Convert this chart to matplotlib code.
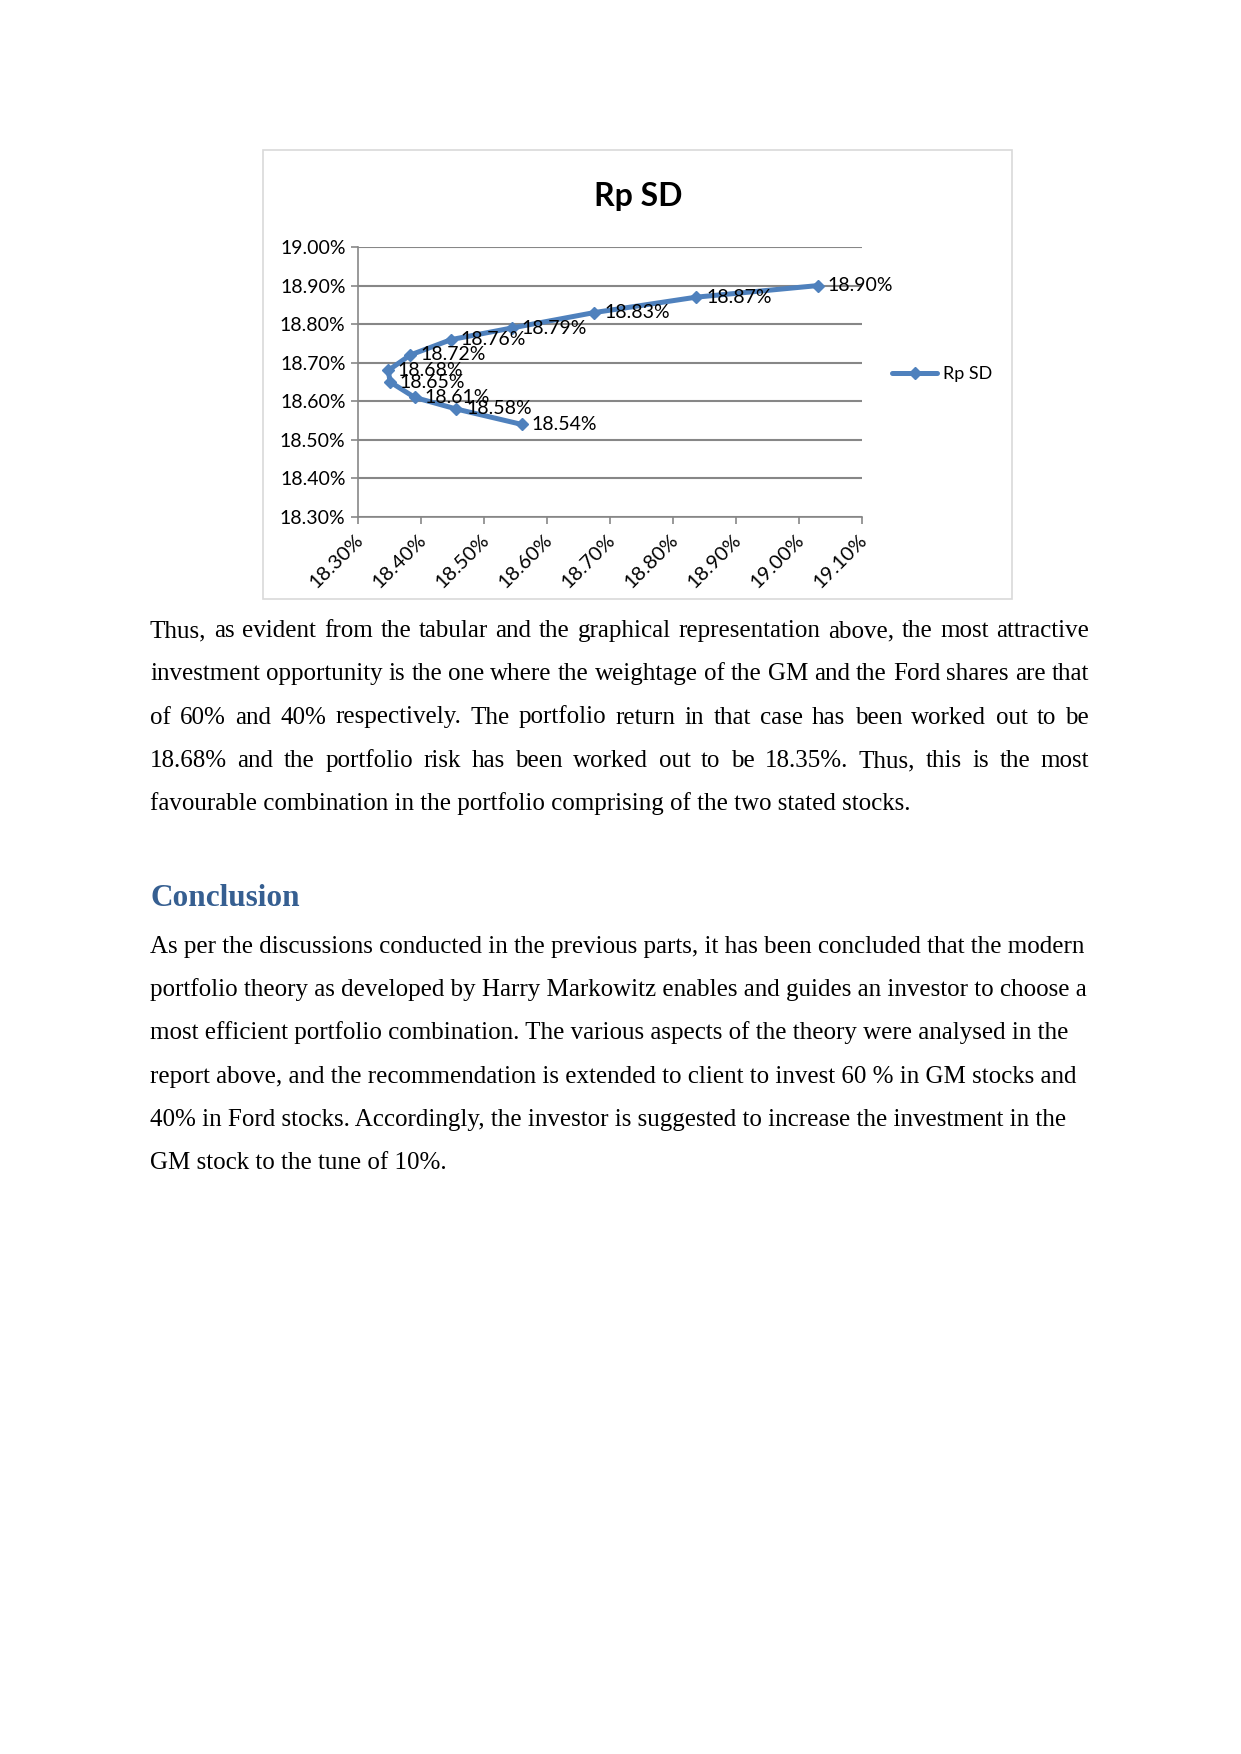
import matplotlib
matplotlib.use("Agg")
import matplotlib.pyplot as plt
from matplotlib.patches import Rectangle
from matplotlib.transforms import ScaledTranslation
import numpy as np

# portfolio risk (x) and return (y), in %
sd = [18.560, 18.456, 18.390, 18.351, 18.348, 18.383, 18.448, 18.544, 18.675, 18.837, 19.030]
rp = [18.54, 18.58, 18.61, 18.65, 18.68, 18.72, 18.76, 18.79, 18.83, 18.87, 18.90]
x_ticks = [18.30, 18.40, 18.50, 18.60, 18.70, 18.80, 18.90, 19.00, 19.10]
y_ticks = [18.30, 18.40, 18.50, 18.60, 18.70, 18.80, 18.90, 19.00]

para1 = [
    "Thus, as evident from the tabular and the graphical representation above, the most attractive",
    "investment opportunity is the one where the weightage of the GM and the Ford shares are that",
    "of 60% and 40% respectively. The portfolio return in that case has been worked out to be",
    "18.68% and the portfolio risk has been worked out to be 18.35%. Thus, this is the most",
    "favourable combination in the portfolio comprising of the two stated stocks.",
]
para2 = [
    "As per the discussions conducted in the previous parts, it has been concluded that the modern",
    "portfolio theory as developed by Harry Markowitz enables and guides an investor to choose a",
    "most efficient portfolio combination. The various aspects of the theory were analysed in the",
    "report above, and the recommendation is extended to client to invest 60 % in GM stocks and",
    "40% in Ford stocks. Accordingly, the investor is suggested to increase the investment in the",
    "GM stock to the tune of 10%.",
]

W, H = 1241, 1754
blue = "#4F81BD"
grid = "#878787"
sans = ["Lato", "DejaVu Sans"]
serif = ["Liberation Serif", "DejaVu Serif"]

fig = plt.figure(figsize=(W / 100, H / 100), dpi=100)
fig.patch.set_facecolor("white")

# chart frame
fig.add_artist(Rectangle((263 / W, 1 - 599 / H), (1012 - 263) / W, (599 - 150) / H,
                         transform=fig.transFigure, fill=False, ec="#d9d9d9", lw=1.2))
fig.text(638 / W, 1 - 206 / H, "Rp SD", ha="center", va="baseline",
         fontsize=23, fontweight="bold", family=sans)

ax = fig.add_axes([358 / W, 1 - 517 / H, (862 - 358) / W, (517 - 247) / H])
ax.set_xlim(18.30, 19.10)
ax.set_ylim(18.30, 19.00)
ax.set_xticks(x_ticks)
ax.set_yticks(y_ticks)
ax.set_xticklabels([f"{v:.2f}%" for v in x_ticks], rotation=45, ha="right", va="top",
                   rotation_mode="anchor", family=sans, fontsize=14.5)
ax.set_yticklabels([f"{v:.2f}%" for v in y_ticks], family=sans, fontsize=14)
ax.tick_params(axis="both", direction="out", length=5, width=1.2, color=grid)
ax.tick_params(axis="y", pad=4)
ax.tick_params(axis="x", pad=3)
shift = ScaledTranslation(-4 / 100, -3 / 100, fig.dpi_scale_trans)
for lab in ax.get_xticklabels():
    lab.set_transform(lab.get_transform() + shift)
ax.grid(axis="y", color=grid, lw=1.5)
ax.set_axisbelow(True)
for s in ["top", "right"]:
    ax.spines[s].set_visible(False)
for s in ["left", "bottom"]:
    ax.spines[s].set_color(grid)
    ax.spines[s].set_linewidth(1.2)

ax.plot(sd, rp, color=blue, lw=3.6, marker="D", markersize=6, label="Rp SD",
        solid_joinstyle="round", solid_capstyle="round")
for x, y in zip(sd, rp):
    ax.annotate(f"{y:.2f}%", (x, y), xytext=(7, 0), textcoords="offset points",
                ha="left", va="center", fontsize=14, family=sans)

ax.legend(loc="center left", bbox_to_anchor=(892 / W, 1 - 374 / H),
          bbox_transform=fig.transFigure, frameon=False, borderpad=0, borderaxespad=0,
          handlelength=2.5, handletextpad=0.3, numpoints=1,
          prop={"family": sans, "size": 13})

# body text
body = dict(fontsize=18, family=serif, va="baseline", ha="left", color="black")
X0, X1 = 150, 1089
renderer = fig.canvas.get_renderer()


def text_width(s):
    t = fig.text(0, 0, s, **body)
    w = t.get_window_extent(renderer).width
    t.remove()
    return w


def put_line(y_px, text, justify):
    y = 1 - y_px / H
    if not justify:
        fig.text(X0 / W, y, text, **body)
        return
    words = text.split(" ")
    extra = (X1 - X0 - text_width(text)) / (len(words) - 1)
    for i, w in enumerate(words):
        start = text_width(" ".join(words[:i + 1])) - text_width(w)
        fig.text((X0 + start + i * extra) / W, y, w, **body)


base1 = [637, 680, 723.5, 767, 810]
for i, (y, line) in enumerate(zip(base1, para1)):
    put_line(y, line, i < len(para1) - 1)

fig.text(X0 / W, 1 - 906 / H, "Conclusion", fontsize=22.5, fontweight="bold",
         family=serif, color="#365F91", va="baseline", ha="left")

base2 = [953, 996, 1039.5, 1082.5, 1126, 1169]
for y, line in zip(base2, para2):
    put_line(y, line, False)

fig.savefig("out.png", dpi=100)
